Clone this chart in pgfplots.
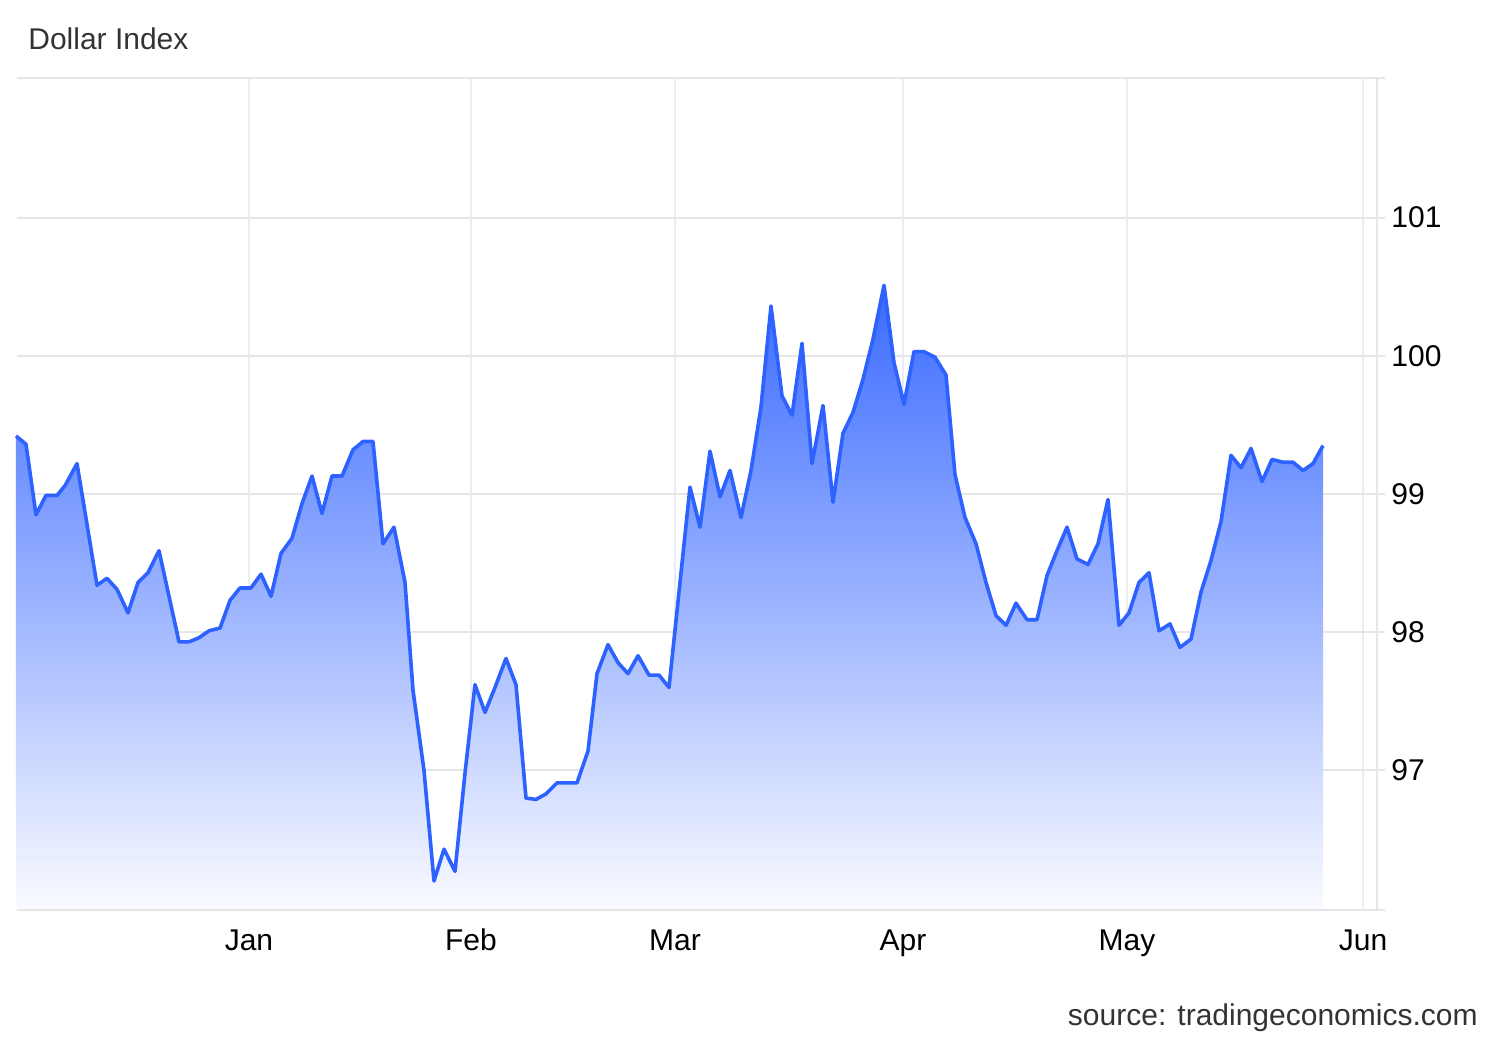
\documentclass[border=0pt]{standalone}
\usepackage{pgfplots}
\pgfplotsset{compat=1.18}
\usepackage{pgfplotstable}
\usepackage{fontspec}
\setmainfont{Liberation Sans}
\definecolor{lineblue}{RGB}{45,98,255}
\definecolor{filltop}{RGB}{58,106,255}
\definecolor{fillbot}{RGB}{250,251,255}
\definecolor{hgrid}{RGB}{230,230,230}
\definecolor{vgrid}{RGB}{232,238,243}
\definecolor{txtgray}{RGB}{51,51,51}
\pgfplotstableread{
x y
16 99.42
26 99.36
36 98.85
46 98.99
57 98.99
65 99.06
77 99.22
97 98.34
107 98.39
117 98.31
128 98.14
138 98.36
148 98.43
159 98.59
179 97.93
189 97.93
199 97.96
209 98.01
220 98.03
230 98.23
240 98.32
251 98.32
261 98.42
271 98.26
281 98.57
292 98.68
302 98.93
312 99.13
322 98.86
332 99.13
342 99.13
353 99.32
363 99.38
373 99.38
383 98.64
394 98.76
405 98.36
413 97.58
424 97.00
434 96.20
444 96.43
455 96.27
465 96.98
475 97.62
485 97.42
495 97.60
506 97.81
516 97.62
526 96.80
536 96.79
546 96.83
557 96.91
567 96.91
577 96.91
588 97.14
597 97.70
608 97.91
618 97.78
628 97.70
638 97.83
649 97.69
659 97.69
669 97.60
690 99.05
700 98.76
710 99.31
720 98.98
730 99.17
741 98.83
751 99.17
761 99.63
771 100.36
782 99.71
792 99.57
802 100.09
812 99.22
823 99.64
833 98.94
843 99.44
853 99.59
863 99.83
873 100.12
884 100.51
894 99.95
904 99.65
914 100.03
924 100.03
935 99.99
946 99.86
955 99.14
965 98.83
976 98.64
986 98.36
996 98.12
1006 98.05
1016 98.21
1027 98.09
1037 98.09
1047 98.41
1057 98.59
1067 98.76
1077 98.53
1088 98.49
1098 98.64
1108 98.96
1119 98.05
1129 98.14
1139 98.36
1149 98.43
1159 98.01
1170 98.06
1180 97.89
1191 97.95
1201 98.29
1211 98.52
1221 98.80
1231 99.28
1241 99.19
1251 99.33
1262 99.09
1272 99.25
1283 99.23
1293 99.23
1303 99.17
1313 99.22
1323 99.35
}\dollar
\begin{document}
\begin{tikzpicture}
\path[use as bounding box] (-8.5pt,-65pt) rectangle (741.5pt,455pt);
\begin{axis}[
  at={(0,0)}, anchor=south west,
  scale only axis, width=680pt, height=416pt,
  xmin=17, xmax=1377, ymin=95.99, ymax=102.01,
  axis line style={draw=none},
  xtick={249,471,675,903,1127,1363},
  xticklabels={Jan,Feb,Mar,Apr,May,Jun},
  xmajorgrids, x grid style={vgrid, line width=1pt},
  ytick={97,98,99,100,101},
  ymajorgrids, y grid style={hgrid, line width=1pt},
  ytick pos=right, yticklabel pos=right,
  tick align=outside,
  x tick style={draw=none},
  y tick style={hgrid, line width=1pt},
  major tick length=4pt,
  /pgf/number format/assume math mode=true,
  tick label style={font=\fontsize{15}{18}\selectfont, text=black},
  xticklabel style={anchor=base, inner sep=0pt, yshift=-16pt},
  yticklabel style={anchor=west, inner sep=0pt, xshift=3pt},
  clip=false,
]
\addplot[draw=none, top color=filltop, bottom color=fillbot]
  table[x=x, y=y] {\dollar} -- (axis cs:1323,95.99) -- (axis cs:16,95.99) -- cycle;
\addplot[lineblue, line width=1.8pt, line join=round, mark=none]
  table[x=x, y=y] {\dollar};
\end{axis}
\draw[hgrid, line width=1pt] (0,416pt) -- (684pt,416pt);
\draw[hgrid, line width=1pt] (0,0) -- (684pt,0);
\draw[hgrid, line width=1pt] (680pt,0) -- (680pt,416pt);
\node[anchor=base west, inner sep=0pt, text=txtgray, font=\fontsize{15}{18}\selectfont] at (5.5pt,430pt) {Dollar Index};
\node[anchor=base east, inner sep=0pt, text=txtgray, font=\fontsize{15}{18}\selectfont] at (730.5pt,-57.5pt) {source: tradingeconomics.com};
\end{tikzpicture}
\end{document}
